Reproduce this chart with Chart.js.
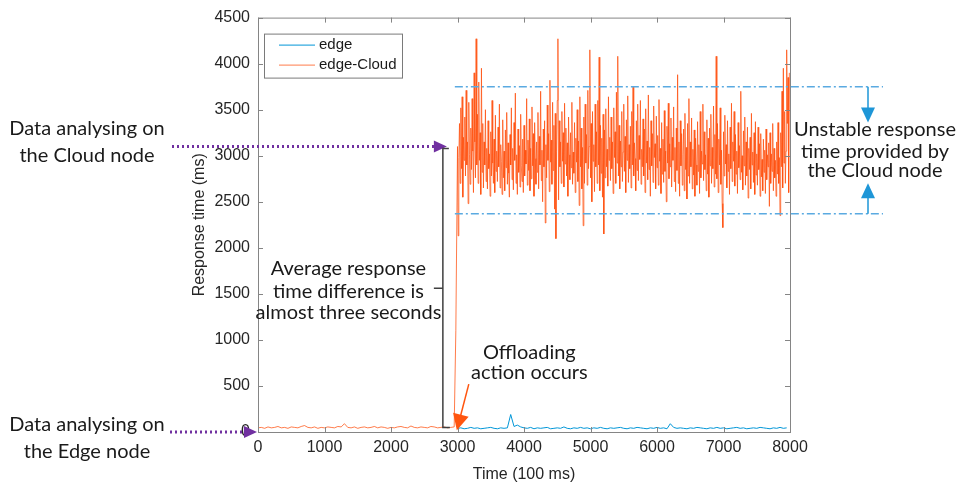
<!DOCTYPE html>
<html>
<head>
<meta charset="utf-8">
<script src="https://cdn.jsdelivr.net/npm/chart.js@4.4.0/dist/chart.umd.min.js"></script>
<style>
  html, body { margin: 0; padding: 0; background: #fff; }
  #wrap { width: 958px; height: 488px; }
</style>
</head>
<body>
<div id="wrap"><canvas id="chart"></canvas></div>
<script>
// axis ticks
const xTicks = [0, 1000, 2000, 3000, 4000, 5000, 6000, 7000, 8000];
const yTicks = [0, 500, 1000, 1500, 2000, 2500, 3000, 3500, 4000, 4500];

// edge-Cloud before offloading, every 50 from 0
const cloudBeforeStart = 0;
const cloudBeforeStep = 50;
const cloudBefore = [
  45, 50, 40, 55, 45, 50, 60, 45, 50, 40,
  55, 50, 45, 60, 70, 50, 45, 55, 40, 50,
  45, 55, 50, 45, 60, 55, 90, 50, 45, 55,
  40, 50, 55, 45, 50, 60, 45, 55, 50, 40,
  50, 45, 55, 60, 50, 45, 65, 50, 45, 55,
  50, 45, 60, 55, 45, 50, 55, 45, 50, 55
];

// the jump when offloading happens
const jumpX = [2975];
const jumpY = [1100];

// edge-Cloud after offloading, every 10 from 3000 (one row = 100)
const cloudAfterStart = 3000;
const cloudAfterStep = 10;
const cloudAfter = [
  3100, 2130, 2980, 3350, 2700, 3520, 2860, 3640, 2550, 3200,
  2950, 3420, 2780, 3710, 2900, 3150, 2480, 3580, 3010, 2690,
  3300, 2850, 3620, 3050, 2600, 3900, 3150, 2760, 4270, 2900,
  3450, 2700, 3800, 2950, 3250, 2580, 3950, 2820, 3350, 2650,
  3150, 2900, 3500, 2720, 3080, 2640, 3380, 2860, 3020, 2560,
  3260, 2780, 3600, 2920, 2700, 3180, 2600, 3440, 2830, 3050,
  2720, 3310, 2880, 3560, 2650, 3120, 2940, 2580, 3390, 2760,
  3050, 2620, 3280, 2870, 3470, 2690, 3140, 2810, 2550, 3230,
  2900, 3520, 2740, 3080, 2630, 3360, 2950, 3680, 2700, 3010,
  2580, 3290, 2820, 3110, 2660, 3450, 2890, 2720, 3180, 2600,
  3330, 2780, 3060, 2910, 3620, 2680, 3170, 2840, 3400, 2620,
  3080, 2750, 3530, 2890, 3240, 2560, 3360, 2970, 2690, 3150,
  2820, 3470, 2640, 3210, 2900, 3700, 2730, 3060, 2500, 3290,
  2880, 3380, 2270, 3120, 2760, 3550, 2950, 3240, 2610, 3820,
  2930, 3170, 2690, 3580, 2840, 3330, 2420, 3460, 2100, 3050,
  3600, 4270, 2520, 3380, 2880, 3150, 2700, 3480, 2940, 3250,
  2660, 3570, 2910, 3300, 2780, 3140, 2560, 3420, 3010, 2740,
  3250, 2870, 3580, 2690, 3040, 2810, 3360, 2600, 3190, 2930,
  3500, 2720, 3160, 2460, 3640, 2880, 3300, 2640, 3090, 2240,
  3420, 2700, 3560, 2920, 3230, 2680, 3710, 2860, 3100, 4150,
  2760, 3350, 2500, 3480, 2940, 3120, 2610, 3560, 2880, 3260,
  2700, 3600, 2900, 4070, 2620, 3330, 2810, 3190, 2550, 3450,
  2150, 3280, 2760, 3510, 2880, 3070, 2670, 3640, 2950, 3200,
  2730, 3420, 2860, 3150, 2590, 3520, 2980, 3260, 2700, 3690,
  2920, 4080, 2780, 3330, 2640, 3160, 2880, 3480, 2720, 3040,
  3560, 2830, 3210, 2600, 3390, 2950, 3650, 2710, 3120, 2860,
  3320, 2650, 3480, 2900, 3750, 2780, 3140, 2970, 2620, 3380,
  2840, 3560, 2730, 3220, 2960, 3600, 2690, 3070, 2880, 3400,
  2780, 3290, 2600, 3510, 2920, 3160, 2740, 3660, 2850, 3090,
  2560, 3380, 2890, 3240, 2710, 3540, 2980, 3130, 2640, 3430,
  2870, 3220, 2680, 3610, 2940, 3080, 2590, 3360, 2800, 3180,
  2710, 3490, 2830, 3050, 2500, 3320, 2920, 3570, 2750, 3130,
  2880, 3410, 2660, 3200, 2950, 3530, 2720, 3090, 2610, 3300,
  2840, 3880, 2700, 3150, 2560, 3380, 2890, 3240, 2680, 3010,
  3290, 2620, 3460, 2850, 3090, 2530, 3350, 2780, 3620, 2700,
  3150, 2880, 3410, 2640, 3070, 2790, 3280, 2560, 3190, 2900,
  2680, 3370, 2830, 3120, 2590, 3480, 2760, 3050, 2910, 3560,
  2730, 3260, 2850, 3010, 2620, 3390, 2800, 3190, 2550, 3300,
  2890, 3450, 2700, 3090, 2860, 3540, 2660, 3230, 2800, 4080,
  2750, 3350, 2600, 3180, 2900, 3520, 2690, 3060, 2480, 2220,
  3260, 2780, 3440, 2910, 3120, 2650, 3380, 2830, 3020, 2580,
  3310, 2860, 3570, 2720, 3150, 2940, 3480, 2670, 3230, 2800,
  3050, 2590, 3360, 2870, 3110, 2740, 3700, 2820, 3000, 2630,
  3270, 2890, 3420, 2680, 3150, 2780, 3310, 2540, 3080, 2850,
  3200, 2640, 3460, 2900, 3040, 2710, 3250, 2580, 3370, 2790,
  3020, 2680, 3310, 2850, 3130, 2560, 3240, 2770, 2960, 2620,
  3180, 2820, 3060, 2590, 3290, 2740, 3010, 2880, 3140, 2450,
  3250, 2700, 3020, 2830, 3350, 2620, 3080, 2760, 2950, 2560,
  3150, 2800, 3360, 2700, 2980, 2350, 3250, 2880, 3700, 2650,
  3950, 2920, 3480, 2700, 3050, 4150, 3350, 3850, 2600, 3900
];

// edge after offloading, every 50 from 3000
const edgeStart = 3000;
const edgeStep = 50;
const edgeValues = [
  40, 45, 35, 40, 50, 40, 45, 35, 40, 45,
  50, 40, 35, 45, 40, 45, 190, 60, 75, 55,
  45, 40, 50, 35, 45, 40, 45, 50, 35, 40,
  45, 40, 55, 40, 35, 45, 40, 50, 40, 45,
  35, 45, 40, 50, 40, 35, 45, 40, 45, 50,
  40, 35, 45, 40, 50, 45, 40, 35, 45, 40,
  50, 40, 45, 35, 90, 50, 40, 45, 40, 35,
  45, 40, 50, 45, 40, 35, 45, 40, 50, 40,
  45, 35, 40, 45, 50, 40, 45, 35, 40, 45,
  40, 50, 45, 40, 35, 45, 40, 50, 40, 45
];

// levels used by the annotations
const upperBand = 3750;
const lowerBand = 2370;
const cloudLevel = 3100;

const edgeColor = 'rgb(0, 150, 215)';
const cloudColor = 'rgba(255, 80, 15, 0.75)';
const textFont = '20px Lato';
const textColor = '#1a1a1a';

function toPoints(start, step, vals) {
  return vals.map((v, i) => ({ x: start + i * step, y: v }));
}

const cloudPoints = toPoints(cloudBeforeStart, cloudBeforeStep, cloudBefore)
  .concat(jumpX.map((x, i) => ({ x: x, y: jumpY[i] })))
  .concat(toPoints(cloudAfterStart, cloudAfterStep, cloudAfter));
const edgePoints = toPoints(edgeStart, edgeStep, edgeValues);

function arrowHead(ctx, tipX, tipY, dx, dy, len, half, color) {
  // dx, dy: unit direction of the arrow
  const bx = tipX - dx * len, by = tipY - dy * len;
  ctx.fillStyle = color;
  ctx.beginPath();
  ctx.moveTo(tipX, tipY);
  ctx.lineTo(bx - dy * half, by + dx * half);
  ctx.lineTo(bx + dy * half, by - dx * half);
  ctx.closePath();
  ctx.fill();
}

function centerText(ctx, lines, x, ys) {
  ctx.font = textFont;
  ctx.fillStyle = textColor;
  ctx.textAlign = 'center';
  ctx.textBaseline = 'middle';
  lines.forEach((t, i) => ctx.fillText(t, x, ys[i]));
}

const framePlugin = {
  id: 'frame',
  afterDatasetsDraw(chart) {
    const { ctx, chartArea: a, scales } = chart;
    const xs = scales.x, ys = scales.y;
    ctx.save();
    ctx.strokeStyle = '#858585';
    ctx.lineWidth = 1;
    ctx.strokeRect(a.left + 0.5, a.top + 0.5, a.right - a.left, a.bottom - a.top);
    ctx.beginPath();
    xTicks.forEach((v) => {
      const px = Math.round(xs.getPixelForValue(v)) + 0.5;
      ctx.moveTo(px, a.bottom); ctx.lineTo(px, a.bottom - 5);
      ctx.moveTo(px, a.top); ctx.lineTo(px, a.top + 5);
    });
    yTicks.forEach((v) => {
      const py = Math.round(ys.getPixelForValue(v)) + 0.5;
      ctx.moveTo(a.left, py); ctx.lineTo(a.left + 5, py);
      ctx.moveTo(a.right, py); ctx.lineTo(a.right - 5, py);
    });
    ctx.stroke();

    // legend box
    ctx.fillStyle = '#fff';
    ctx.fillRect(a.left + 6, a.top + 16, 138, 44);
    ctx.strokeStyle = '#7a7a7a';
    ctx.strokeRect(a.left + 6.5, a.top + 16.5, 138, 44);
    const legendItems = chart.data.datasets;
    ctx.font = '15px "Liberation Sans"';
    ctx.textAlign = 'left';
    ctx.textBaseline = 'middle';
    legendItems.forEach((d, i) => {
      const ly = a.top + 27.5 + i * 20;
      ctx.strokeStyle = d.borderColor;
      ctx.lineWidth = 1;
      ctx.beginPath();
      ctx.moveTo(a.left + 21, ly); ctx.lineTo(a.left + 57, ly);
      ctx.stroke();
      ctx.fillStyle = '#1a1a1a';
      ctx.fillText(d.label, a.left + 61, ly);
    });
    ctx.restore();
  },
  afterDraw(chart) {
    const { ctx, chartArea: a, scales } = chart;
    const X = (v) => scales.x.getPixelForValue(v);
    const Y = (v) => scales.y.getPixelForValue(v);
    ctx.save();

    // dash-dot bands for the cloud node
    ctx.strokeStyle = 'rgb(90, 170, 225)';
    ctx.lineWidth = 1.5;
    ctx.setLineDash([8, 3, 2, 3]);
    [upperBand, lowerBand].forEach((v) => {
      ctx.beginPath();
      ctx.moveTo(X(2960), Y(v));
      ctx.lineTo(a.right + 93, Y(v));
      ctx.stroke();
    });
    ctx.setLineDash([]);

    // blue arrows to the band text
    const bx = a.right + 78;
    ctx.strokeStyle = 'rgb(30, 150, 215)';
    ctx.lineWidth = 1.5;
    ctx.beginPath();
    ctx.moveTo(bx, Y(upperBand)); ctx.lineTo(bx, Y(3360) - 12);
    ctx.moveTo(bx, Y(lowerBand)); ctx.lineTo(bx, Y(2700) + 12);
    ctx.stroke();
    arrowHead(ctx, bx, Y(3360), 0, 1, 15, 7, 'rgb(30, 150, 215)');
    arrowHead(ctx, bx, Y(2700), 0, -1, 15, 7, 'rgb(30, 150, 215)');
    centerText(ctx, ['Unstable response', 'time provided by', 'the Cloud node'],
      a.right + 85, [Y(3285), Y(3050), Y(2840)]);

    // purple dotted arrows from the left labels
    const purple = 'rgb(112, 48, 160)';
    ctx.strokeStyle = purple;
    ctx.lineWidth = 3;
    ctx.setLineDash([2, 3]);
    ctx.beginPath();
    ctx.moveTo(172, Y(cloudLevel)); ctx.lineTo(X(2840) - 10, Y(cloudLevel));
    ctx.moveTo(170, Y(0)); ctx.lineTo(a.left - 10, Y(0));
    ctx.stroke();
    ctx.setLineDash([]);
    arrowHead(ctx, X(2840), Y(cloudLevel), 1, 0, 13, 6, purple);
    arrowHead(ctx, a.left - 1, Y(0), 1, 0, 13, 6, purple);
    centerText(ctx, ['Data analysing on', 'the Cloud node'], 87, [Y(3290), Y(3000)]);
    centerText(ctx, ['Data analysing on', 'the Edge node'], 87, [Y(0) - 7, Y(0) + 20]);

    // bracket showing the difference
    const kx = X(2780);
    ctx.strokeStyle = '#404040';
    ctx.lineWidth = 1.5;
    ctx.beginPath();
    ctx.moveTo(kx + 6, Y(cloudLevel) + 2);
    ctx.lineTo(kx, Y(cloudLevel) + 2);
    ctx.lineTo(kx, Y(50));
    ctx.lineTo(kx + 7, Y(50));
    ctx.moveTo(kx, Y(1560));
    ctx.lineTo(kx - 9, Y(1560));
    ctx.stroke();
    centerText(ctx, ['Average response', 'time difference is', 'almost three seconds'],
      X(1360), [Y(1770), Y(1530), Y(1300)]);

    // offloading arrow
    const orange = 'rgb(255, 85, 15)';
    const sx = X(3170), sy = Y(520), tx = X(2990), ty = Y(20);
    const len = Math.hypot(tx - sx, ty - sy);
    const ux = (tx - sx) / len, uy = (ty - sy) / len;
    ctx.strokeStyle = orange;
    ctx.lineWidth = 1.5;
    ctx.beginPath();
    ctx.moveTo(sx, sy); ctx.lineTo(tx - ux * 12, ty - uy * 12);
    ctx.stroke();
    arrowHead(ctx, tx, ty, ux, uy, 16, 8, orange);
    centerText(ctx, ['Offloading', 'action occurs'], X(4080), [Y(865), Y(650)]);

    ctx.restore();
  }
};

new Chart(document.getElementById('chart').getContext('2d'), {
  type: 'line',
  data: {
    datasets: [
      {
        label: 'edge',
        data: edgePoints,
        borderColor: edgeColor,
        borderWidth: 1,
        pointRadius: 0,
        tension: 0,
      },
      {
        label: 'edge-Cloud',
        data: cloudPoints,
        borderColor: cloudColor,
        borderWidth: 1,
        pointRadius: 0,
        tension: 0,
      },
    ],
  },
  options: {
    responsive: true,
    maintainAspectRatio: false,
    animation: false,
    layout: { padding: { left: 186, right: 168, top: 16, bottom: 0 } },
    plugins: {
      legend: { display: false },
      tooltip: { enabled: false },
    },
    scales: {
      x: {
        type: 'linear',
        min: 0,
        max: 8000,
        afterBuildTicks: (s) => { s.ticks = xTicks.map((v) => ({ value: v })); },
        afterFit: (s) => { s.height = 56; },
        grid: { display: false, drawTicks: false },
        border: { display: false },
        ticks: {
          padding: 6,
          maxRotation: 0,
          color: '#262626',
          font: { family: 'Liberation Sans', size: 16 },
          callback: (v) => String(v),
        },
        title: {
          display: true,
          text: 'Time (100 ms)',
          color: '#262626',
          font: { family: 'Liberation Sans', size: 16 },
        },
      },
      y: {
        min: 0,
        max: 4500,
        afterBuildTicks: (s) => { s.ticks = yTicks.map((v) => ({ value: v })); },
        afterFit: (s) => { s.width = 72; },
        grid: { display: false, drawTicks: false },
        border: { display: false },
        ticks: {
          padding: 8,
          color: '#262626',
          font: { family: 'Liberation Sans', size: 16 },
          callback: (v) => String(v),
        },
        title: {
          display: true,
          text: 'Response time (ms)',
          color: '#262626',
          font: { family: 'Liberation Sans', size: 16 },
        },
      },
    },
  },
  plugins: [framePlugin],
});
</script>
</body>
</html>
